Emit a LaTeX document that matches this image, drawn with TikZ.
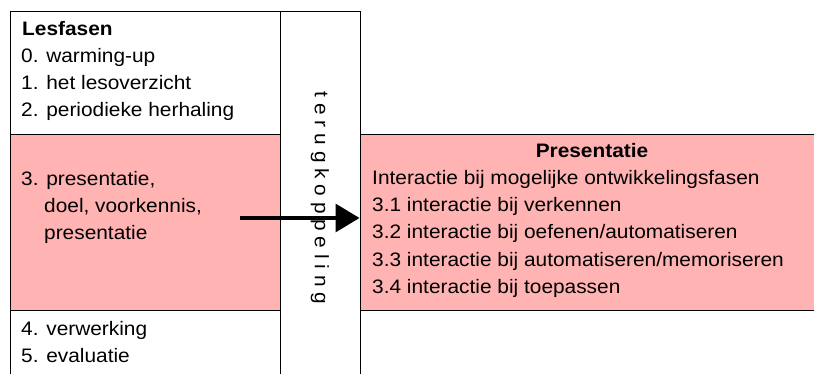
\documentclass[tikz,border=0pt]{standalone}
\usepackage{fontspec}
\setmainfont[FakeStretch=1.07]{Liberation Sans}
\usetikzlibrary{arrows.meta}
\definecolor{pinkfill}{HTML}{FFB3B3}
\tikzset{
  txt/.style={anchor=base west, inner sep=0pt, font=\fontsize{19.5}{27}\selectfont},
  band/.style={fill=pinkfill, draw=black, line width=1.2pt, inner sep=0pt, anchor=north west},
  frame/.style={draw=black, line width=1.2pt, inner sep=0pt, anchor=north west},
  bigarrow/.style={line width=3.4pt, -{Triangle[length=24pt,width=28pt]}}
}
\begin{document}
\begin{tikzpicture}[x=1pt,y=-1pt]
\useasboundingbox (0,0) rectangle (814,374);
\clip (0,0) rectangle (814,374);
% boxes
\node[frame, minimum width=270pt, minimum height=380pt] (les) at (9.5,11) {};
\node[band, minimum width=270pt, minimum height=176pt] (lespink) at (9.5,134) {};
\node[band, minimum width=470pt, minimum height=176pt] (pres) at (359.5,134) {};
\node[frame, fill=white, minimum width=80pt, minimum height=380pt] (col) at (279.5,11) {};
% left texts
\node[txt, font=\fontsize{19.5}{27}\selectfont\bfseries] (t0) at (22,36) {Lesfasen};
\node[txt] (t1) at (21,63) {0. warming-up};
\node[txt] (t2) at (21,90) {1. het lesoverzicht};
\node[txt] (t3) at (21,117) {2. periodieke herhaling};
\node[txt] (t4) at (21,186) {3. presentatie,};
\node[txt] (t5) at (44,213) {doel, voorkennis,};
\node[txt] (t6) at (44,240) {presentatie};
\node[txt] (t7) at (21,335) {4. verwerking};
\node[txt] (t8) at (21,362) {5. evaluatie};
% column text
\node[inner sep=0pt, rotate=-90, font=\fontsize{19.5}{27}\selectfont] (terug) at (320,198) {t e r u g k o p p e l i n g};
% right texts
\node[inner sep=0pt, anchor=base, font=\fontsize{19.5}{27}\selectfont\bfseries] (r0) at (592,158) {Presentatie};
\node[txt] (r1) at (372,185) {Interactie bij mogelijke ontwikkelingsfasen};
\node[txt] (r2) at (372,212) {3.1 interactie bij verkennen};
\node[txt] (r3) at (372,239) {3.2 interactie bij oefenen/automatiseren};
\node[txt] (r4) at (372,266.5) {3.3 interactie bij automatiseren/memoriseren};
\node[txt] (r5) at (372,294) {3.4 interactie bij toepassen};
% arrow
\coordinate (astart) at (240,218);
\draw[bigarrow] (astart) -- (astart -| pres.west);
\end{tikzpicture}
\end{document}
